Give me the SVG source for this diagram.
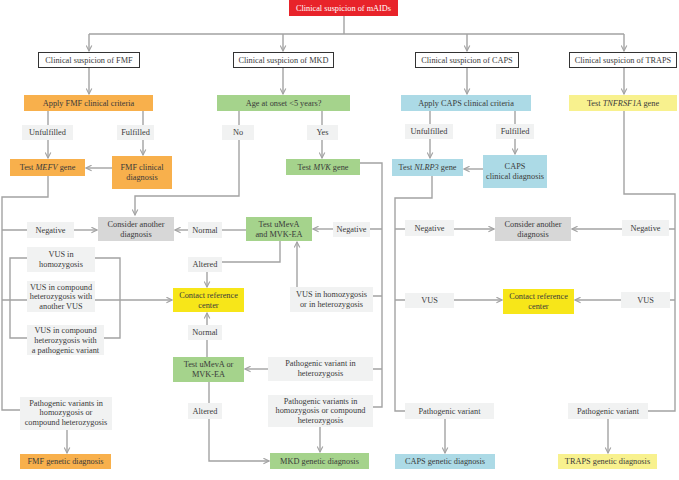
<svg xmlns="http://www.w3.org/2000/svg" width="679" height="480" viewBox="0 0 679 480">
<style>
text{font-family:"Liberation Serif","Times New Roman",serif;font-size:8.3px;fill:#3a3a3a;text-anchor:middle}
.w{fill:#fff}
.lb{fill:#f1f2f2}
.l1{fill:#fff;stroke:#333;stroke-width:1}
.or{fill:#f8b04c}
.gr{fill:#a5d38c}
.bl{fill:#acdae6}
.ye{fill:#f7e619}
.ly{fill:#f8f18e}
.cg{fill:#d7d7d7}
.c path{fill:none;stroke:#a3a3a3;stroke-width:1.4}
.i{font-style:italic}
</style>
<defs>
<marker id="a" viewBox="0 0 10 10" refX="9" refY="5" markerWidth="7" markerHeight="7" markerUnits="userSpaceOnUse" orient="auto">
<path d="M1,1 L9,5 L1,9" fill="none" stroke="#a3a3a3" stroke-width="1.6"/>
</marker>
</defs>
<rect width="679" height="480" fill="#fff"/>

<g class="c" id="connectors">
<path d="M344,16 V34 M89,34 H624"/>
<path d="M89,34 V51" marker-end="url(#a)"/>
<path d="M283,34 V51" marker-end="url(#a)"/>
<path d="M467,34 V51" marker-end="url(#a)"/>
<path d="M624,34 V51" marker-end="url(#a)"/>
<path d="M89,68 V94" marker-end="url(#a)"/>
<path d="M283,68 V94" marker-end="url(#a)"/>
<path d="M467,68 V94" marker-end="url(#a)"/>
<path d="M624,68 V94" marker-end="url(#a)"/>
<!-- FMF -->
<path d="M48,111 V125 M143,111 V125"/>
<path d="M48,140 V158" marker-end="url(#a)"/>
<path d="M143,140 V155" marker-end="url(#a)"/>
<path d="M112,168 H86" marker-end="url(#a)"/>
<path d="M48,176 V197 H2 V410 H20 M2,230 H27 M2,300 H27 M27,258 H10 V338 H27 M95,258 H120 V338 H104"/>
<path d="M74,230 H97" marker-end="url(#a)"/>
<path d="M95,300 H172" marker-end="url(#a)"/>
<path d="M67,430 V453" marker-end="url(#a)"/>
<!-- MKD -->
<path d="M239,111 V125 M322,111 V125"/>
<path d="M239,140 V196 H135 V215" marker-end="url(#a)"/>
<path d="M322,140 V158" marker-end="url(#a)"/>
<path d="M360,163 H382 V407 H373 M382,229 H370 M382,296 H373 M382,369 H373"/>
<path d="M333,229 H313" marker-end="url(#a)"/>
<path d="M246,230 H222"/>
<path d="M188,230 H175" marker-end="url(#a)"/>
<path d="M280,241 V262 H222"/>
<path d="M207,272 V287" marker-end="url(#a)"/>
<path d="M297,287 V242" marker-end="url(#a)"/>
<path d="M207,325 V313" marker-end="url(#a)"/>
<path d="M207,340 V357"/>
<path d="M268,369 H245" marker-end="url(#a)"/>
<path d="M209,382 V403 M209,419 V461 H269" marker-end="url(#a)"/>
<path d="M320,427 V452" marker-end="url(#a)"/>
<!-- CAPS -->
<path d="M430,111 V124 M515,111 V124"/>
<path d="M430,139 V158" marker-end="url(#a)"/>
<path d="M515,139 V154" marker-end="url(#a)"/>
<path d="M483,169 H464" marker-end="url(#a)"/>
<path d="M432,176 V198 H395 V411 H405 M395,229 H405 M395,300 H405"/>
<path d="M454,229 H494" marker-end="url(#a)"/>
<path d="M454,300 H502" marker-end="url(#a)"/>
<path d="M445,419 V453" marker-end="url(#a)"/>
<!-- TRAPS -->
<path d="M624,111 V194 H675 V411 H648 M675,229 H669 M675,300 H670"/>
<path d="M622,229 H572" marker-end="url(#a)"/>
<path d="M621,300 H575" marker-end="url(#a)"/>
<path d="M608,419 V453" marker-end="url(#a)"/>
</g>

<g id="n-root"><rect x="289" y="0" width="109" height="16" fill="#e8232a"/><text class="w" x="343.5" y="10.9">Clinical suspicion of mAIDs</text></g>

<g id="n-fmf"><rect class="l1" x="38.5" y="52.5" width="101" height="15"/><text x="89" y="62.9">Clinical suspicion of FMF</text></g>
<g id="n-mkd"><rect class="l1" x="233.5" y="52.5" width="100" height="15"/><text x="283.5" y="62.9">Clinical suspicion of MKD</text></g>
<g id="n-caps"><rect class="l1" x="415.5" y="52.5" width="103" height="15"/><text x="467" y="62.9">Clinical suspicion of CAPS</text></g>
<g id="n-traps"><rect class="l1" x="569.5" y="52.5" width="107" height="15"/><text x="623" y="62.9">Clinical suspicion of TRAPS</text></g>

<g id="n-fmfcrit"><rect class="or" x="24" y="95" width="129" height="16"/><text x="88.5" y="105.9">Apply FMF clinical criteria</text></g>
<g id="n-age"><rect class="gr" x="217" y="95" width="133" height="16"/><text x="283.5" y="105.9">Age at onset &lt;5 years?</text></g>
<g id="n-capscrit"><rect class="bl" x="401" y="95" width="130" height="16"/><text x="466" y="105.9">Apply CAPS clinical criteria</text></g>
<g id="n-tnf"><rect class="ly" x="569" y="95" width="108" height="16"/><text x="623" y="105.9">Test <tspan class="i">TNFRSF1A</tspan>  gene</text></g>

<g id="n-unf1"><rect class="lb" x="22" y="125" width="51" height="15"/><text x="47.5" y="135.4">Unfulfilled</text></g>
<g id="n-ful1"><rect class="lb" x="117" y="125" width="37" height="15"/><text x="135.5" y="135.4">Fulfilled</text></g>
<g id="n-no"><rect class="lb" x="222" y="125" width="32" height="15"/><text x="238" y="135.4">No</text></g>
<g id="n-yes"><rect class="lb" x="307" y="125" width="31" height="15"/><text x="322.5" y="135.4">Yes</text></g>
<g id="n-unf2"><rect class="lb" x="405" y="124" width="48" height="15"/><text x="429" y="134.4">Unfulfilled</text></g>
<g id="n-ful2"><rect class="lb" x="496" y="124" width="38" height="15"/><text x="515" y="134.4">Fulfilled</text></g>

<g id="n-mefv"><rect class="or" x="10" y="159" width="75" height="17"/><text x="47.5" y="170.4">Test <tspan class="i">MEFV</tspan>  gene</text></g>
<g id="n-fmfdx"><rect class="or" x="112" y="156" width="60" height="33"/><text x="142" y="169.5">FMF clinical</text><text x="142" y="179.8">diagnosis</text></g>
<g id="n-mvk"><rect class="gr" x="286" y="159" width="74" height="16"/><text x="323" y="169.9">Test <tspan class="i">MVK</tspan> gene</text></g>
<g id="n-nlrp3"><rect class="bl" x="392" y="159" width="71" height="17"/><text x="427.5" y="170.4">Test <tspan class="i">NLRP3</tspan>  gene</text></g>
<g id="n-capsdx"><rect class="bl" x="483" y="155" width="64" height="33"/><text x="515" y="168.5">CAPS</text><text x="515" y="178.8">clinical diagnosis</text></g>

<g id="n-neg1"><rect class="lb" x="27" y="222" width="47" height="16"/><text x="50.5" y="232.9">Negative</text></g>
<g id="n-other1"><rect class="cg" x="98" y="217" width="76" height="24"/><text x="136" y="226.8">Consider another</text><text x="136" y="236.8">diagnosis</text></g>
<g id="n-normal1"><rect class="lb" x="188" y="222" width="34" height="16"/><text x="205" y="232.9">Normal</text></g>
<g id="n-umeva1"><rect class="gr" x="246" y="217" width="66" height="24"/><text x="279" y="226.8">Test uMevA</text><text x="279" y="236.8">and MVK-EA</text></g>
<g id="n-neg2"><rect class="lb" x="333" y="222" width="37" height="15"/><text x="351.5" y="232.4">Negative</text></g>
<g id="n-neg3"><rect class="lb" x="405" y="220" width="49" height="16"/><text x="429.5" y="230.9">Negative</text></g>
<g id="n-other2"><rect class="cg" x="495" y="217" width="76" height="24"/><text x="533" y="226.8">Consider another</text><text x="533" y="236.8">diagnosis</text></g>
<g id="n-neg4"><rect class="lb" x="622" y="220" width="47" height="16"/><text x="645.5" y="230.9">Negative</text></g>

<g id="n-vus1"><rect class="lb" x="27" y="247" width="68" height="25"/><text x="61" y="256.8">VUS in</text><text x="61" y="266.8">homozygosis</text></g>
<g id="n-vus2"><rect class="lb" x="27" y="281" width="68" height="31"/><text x="61" y="289.5">VUS in compound</text><text x="61" y="299.3">heterozygosis with</text><text x="61" y="309.1">another VUS</text></g>
<g id="n-vus3"><rect class="lb" x="27" y="325" width="77" height="30"/><text x="65.5" y="333.3">VUS in compound</text><text x="65.5" y="343.1">heterozygosis with</text><text x="65.5" y="352.9">a pathogenic variant</text></g>
<g id="n-altered1"><rect class="lb" x="188" y="257" width="34" height="15"/><text x="205" y="267.4">Altered</text></g>
<g id="n-contact1"><rect class="ye" x="173" y="288" width="71" height="24"/><text x="208.5" y="297.8">Contact reference</text><text x="208.5" y="307.8">center</text></g>
<g id="n-vusmkd"><rect class="lb" x="290" y="287" width="83" height="25"/><text x="331.5" y="296.8">VUS in homozygosis</text><text x="331.5" y="306.8">or in heterozygosis</text></g>
<g id="n-vus4"><rect class="lb" x="405" y="293" width="49" height="15"/><text x="429.5" y="303.4">VUS</text></g>
<g id="n-contact2"><rect class="ye" x="503" y="289" width="71" height="25"/><text x="538.5" y="298.8">Contact reference</text><text x="538.5" y="308.8">center</text></g>
<g id="n-vus5"><rect class="lb" x="621" y="292" width="49" height="16"/><text x="645.5" y="302.9">VUS</text></g>

<g id="n-normal2"><rect class="lb" x="188" y="325" width="34" height="15"/><text x="205" y="335.4">Normal</text></g>
<g id="n-umeva2"><rect class="gr" x="173" y="357" width="71" height="25"/><text x="208.5" y="366.8">Test uMevA or</text><text x="208.5" y="376.8">MVK-EA</text></g>
<g id="n-pathhet"><rect class="lb" x="268" y="357" width="105" height="24"/><text x="320.5" y="366.3">Pathogenic variant in</text><text x="320.5" y="376.3">heterozygosis</text></g>
<g id="n-altered2"><rect class="lb" x="188" y="403" width="34" height="16"/><text x="205" y="413.9">Altered</text></g>
<g id="n-pathfmf"><rect class="lb" x="20" y="397" width="92" height="33"/><text x="66" y="405.6">Pathogenic variants in</text><text x="66" y="415.4">homozygosis or</text><text x="66" y="425.2">compound heterozygosis</text></g>
<g id="n-pathmkd"><rect class="lb" x="268" y="395" width="105" height="32"/><text x="320.5" y="403.6">Pathogenic variants in</text><text x="320.5" y="413.4">homozygosis or compound</text><text x="320.5" y="423.2">heterozygosis</text></g>
<g id="n-pathcaps"><rect class="lb" x="405" y="403" width="89" height="16"/><text x="449.5" y="413.9">Pathogenic variant</text></g>
<g id="n-pathtraps"><rect class="lb" x="568" y="403" width="80" height="16"/><text x="608" y="413.9">Pathogenic variant</text></g>

<g id="n-fmfgen"><rect class="or" x="20" y="454" width="91" height="15"/><text x="65.5" y="464.4">FMF genetic diagnosis</text></g>
<g id="n-mkdgen"><rect class="gr" x="270" y="453" width="99" height="16"/><text x="319.5" y="463.9">MKD genetic diagnosis</text></g>
<g id="n-capsgen"><rect class="bl" x="395" y="454" width="100" height="15"/><text x="445" y="464.4">CAPS genetic diagnosis</text></g>
<g id="n-trapsgen"><rect class="ly" x="558" y="454" width="99" height="15"/><text x="607.5" y="464.4">TRAPS genetic diagnosis</text></g>
</svg>
